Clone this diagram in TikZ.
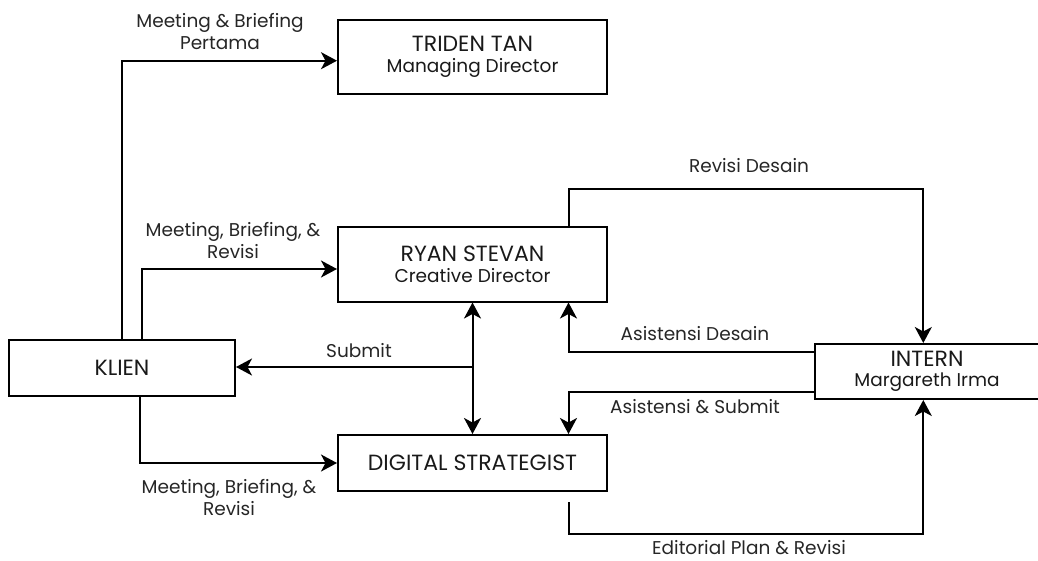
\documentclass[tikz,border=0pt]{standalone}
\usepackage{fontspec}
\setmainfont{Poppins}
\usetikzlibrary{arrows.meta}
\begin{document}
\begin{tikzpicture}[x=1pt,y=-1pt,
  box/.style={draw=black,line width=2pt,rectangle,align=center,inner sep=0pt,font=\fontsize{22}{24}\selectfont,text=black!90},
  lbl/.style={align=center,inner sep=0pt,font=\fontsize{18.5}{22}\selectfont,text=black!85},
  arr/.style={line width=2pt,-{Stealth[length=16pt,width=17pt,inset=4.5pt]}}]
\useasboundingbox (0,0) rectangle (1038,560);
\node[box,minimum width=269pt,minimum height=74pt] (triden) at (472.5,57) {TRIDEN TAN\\[-3pt]{\fontsize{18.5}{20}\selectfont Managing Director}};
\node[box,minimum width=269pt,minimum height=75pt] (ryan) at (472.5,264) {RYAN STEVAN\\[-3pt]{\fontsize{18.5}{20}\selectfont Creative Director}};
\node[box,minimum width=269pt,minimum height=56pt] (digital) at (472.5,463) {DIGITAL STRATEGIST};
\node[box,minimum width=226pt,minimum height=56pt] (klien) at (122,368) {KLIEN};
\node[box,minimum width=224pt,minimum height=55pt] (intern) at (927,371.5) {INTERN\\[-4pt]{\fontsize{18.5}{20}\selectfont Margareth Irma}};
\coordinate (rd) at (923.3,189);
\coordinate (eb) at (923.3,534.3);
% connectors
\draw[arr] (klien.north) |- ([yshift=-3.7pt]triden.west);
\draw[arr] ([xshift=20pt]klien.north) |- ([yshift=-5pt]ryan.west);
\draw[arr] ([xshift=18pt]klien.south) |- (digital.west);
\draw[line width=2pt,{Stealth[length=16pt,width=17pt,inset=4.5pt]}-{Stealth[length=16pt,width=17pt,inset=4.5pt]}] (ryan.south) -- (digital.north);
\draw[arr] (ryan.south |- 0,367) -- (klien.east |- 0,367);
\draw[arr] ([xshift=96pt]ryan.north) |- (rd) -- (rd |- intern.north);
\draw[arr] ([yshift=20pt]intern.west) -| ([xshift=96pt]ryan.south);
\draw[arr] ([yshift=-20.5pt]intern.west) -| ([xshift=96pt]digital.north);
\draw[arr] ([xshift=96pt,yshift=-10pt]digital.south) |- (eb) -- (eb |- intern.south);
% labels
\node[lbl] (l1) at (220,32) {Meeting \& Briefing\\Pertama};
\node[lbl] (l2) at (233,241) {Meeting, Briefing, \&\\Revisi};
\node[lbl] (l3) at (359,351) {Submit};
\node[lbl] (l4) at (229,498) {Meeting, Briefing, \&\\Revisi};
\node[lbl] (l5) at (749,166) {Revisi Desain};
\node[lbl] (l6) at (695,334) {Asistensi Desain};
\node[lbl] (l7) at (695,407) {Asistensi \& Submit};
\node[lbl] (l8) at (749,548) {Editorial Plan \& Revisi};
\end{tikzpicture}
\end{document}
